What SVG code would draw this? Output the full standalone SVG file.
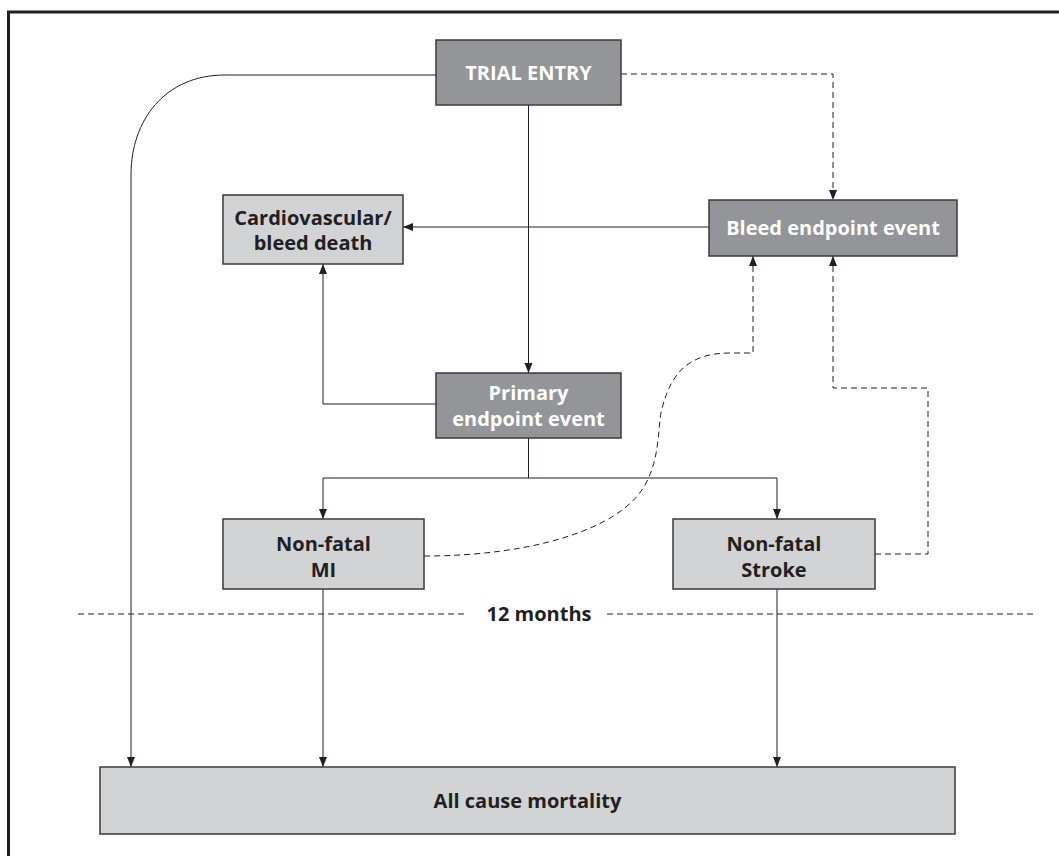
<svg xmlns="http://www.w3.org/2000/svg" width="1059" height="856" viewBox="0 0 1059 856">
<style>
.dark{fill:#939598;stroke:#3a3a3c;stroke-width:1.5}
.light{fill:#d1d3d4;stroke:#3a3a3c;stroke-width:1.5}
.tw{font-family:"Open Sans","Liberation Sans",sans-serif;font-weight:bold;font-size:20px;fill:#ffffff;text-anchor:middle}
.tb{font-family:"Open Sans","Liberation Sans",sans-serif;font-weight:bold;font-size:20px;fill:#231f20;text-anchor:middle}
.ln{fill:none;stroke:#231f20;stroke-width:1}
.ds{fill:none;stroke:#231f20;stroke-width:1;stroke-dasharray:6 4}
</style>
<defs>
<marker id="ah" markerWidth="10" markerHeight="10" viewBox="0 0 10 10" refX="10" refY="5" orient="auto" markerUnits="userSpaceOnUse">
<path d="M0,1 L10,5 L0,9 Z" fill="#231f20"/>
</marker>
</defs>
<rect width="1059" height="856" fill="#ffffff"/>
<path d="M8.5,856 V12 H1059" fill="none" stroke="#231f20" stroke-width="3"/>
<g id="connectors">
<path class="ln" d="M436,75 H225 C165,75 131,120 131,175 V767" marker-end="url(#ah)"/>
<path class="ds" d="M621,74 H833 V200" marker-end="url(#ah)"/>
<path class="ln" d="M528.5,105 V373" marker-end="url(#ah)"/>
<path class="ln" d="M709,227 H403" marker-end="url(#ah)"/>
<path class="ln" d="M436,404 H323 V264" marker-end="url(#ah)"/>
<path class="ln" d="M528.5,438 V478 M323,478 H777"/>
<path class="ln" d="M323,478 V519" marker-end="url(#ah)"/>
<path class="ln" d="M777,478 V519" marker-end="url(#ah)"/>
<path class="ds" d="M424,556 C530,556 620,530 645,485 C662,455 657,420 663,405 C672,372 690,353 730,353 H753 V256" marker-end="url(#ah)"/>
<path class="ds" d="M875,554 H928 V388 H833 V256" marker-end="url(#ah)"/>
<path class="ds" d="M78,614 H467 M607,614 H1035"/>
<path class="ln" d="M323,589 V767" marker-end="url(#ah)"/>
<path class="ln" d="M777,589 V767" marker-end="url(#ah)"/>
</g>
<text class="tb" x="539" y="621">12 months</text>
<g id="trial-entry">
<rect class="dark" x="436" y="40" width="185" height="65"/>
<text class="tw" x="528.5" y="80">TRIAL ENTRY</text>
</g>
<g id="cardio-death">
<rect class="light" x="223" y="195" width="180" height="69"/>
<text class="tb" x="313" y="225">Cardiovascular/</text>
<text class="tb" x="313" y="250">bleed death</text>
</g>
<g id="bleed-event">
<rect class="dark" x="709" y="200" width="248" height="56"/>
<text class="tw" x="833" y="235">Bleed endpoint event</text>
</g>
<g id="primary-event">
<rect class="dark" x="436" y="373" width="185" height="65"/>
<text class="tw" x="528.5" y="400">Primary</text>
<text class="tw" x="528.5" y="426">endpoint event</text>
</g>
<g id="nonfatal-mi">
<rect class="light" x="223" y="519" width="201" height="70"/>
<text class="tb" x="323.5" y="551">Non-fatal</text>
<text class="tb" x="323.5" y="577">MI</text>
</g>
<g id="nonfatal-stroke">
<rect class="light" x="673" y="519" width="202" height="70"/>
<text class="tb" x="774" y="551">Non-fatal</text>
<text class="tb" x="774" y="577">Stroke</text>
</g>
<g id="all-cause-mortality">
<rect class="light" x="100" y="767" width="855" height="67"/>
<text class="tb" x="527.5" y="808">All cause mortality</text>
</g>
</svg>
